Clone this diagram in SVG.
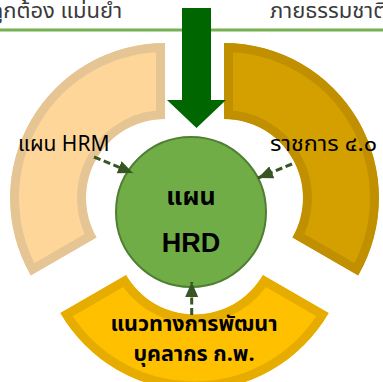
<svg xmlns="http://www.w3.org/2000/svg" width="383" height="382" viewBox="0 0 383 382">
<style>
.th{font-family:Tahoma,"Leelawadee UI","Noto Sans Thai","Noto Sans","DejaVu Sans",sans-serif;}
.top{font-size:22px;fill:#3a3a3a;}
.lbl{font-size:21px;fill:#000;}
.bl{font-size:21.5px;font-weight:bold;fill:#000;}
.conn{stroke:#375623;stroke-width:3;stroke-dasharray:7 3.5;fill:none;}
</style>
<defs>
<marker id="ah" markerWidth="15" markerHeight="13" refX="15" refY="6.5" orient="auto" markerUnits="userSpaceOnUse">
<path d="M0,0 L15,6.5 L0,13 Z" fill="#375623"/>
</marker>
<clipPath id="clL"><path d="M165,43 A155,155 0 0 0 30.8,275.5 L96.6,237.5 A79,79 0 0 1 165,119 Z"/></clipPath>
<clipPath id="clR"><path d="M224,43 A155,155 0 0 1 358.2,275.5 L292.4,237.5 A79,79 0 0 0 224,119 Z"/></clipPath>
<clipPath id="clB"><path d="M328.7,313 A155,155 0 0 1 60.3,313 L126.1,275 A79,79 0 0 0 262.9,275 Z"/></clipPath>
</defs>
<rect width="383" height="382" fill="#fff"/>
<g id="top-text">
<text class="th top" x="-10" y="18">ถูกต้อง แม่นยำ</text>
<text class="th top" x="270" y="18">ภายธรรมชาติเ</text>
<line x1="0" y1="30" x2="383" y2="30" stroke="#77B150" stroke-width="3"/>
</g>
<g id="seg-left">
<path d="M165,43 A155,155 0 0 0 30.8,275.5 L96.6,237.5 A79,79 0 0 1 165,119 Z" fill="#FFD699" stroke="#E6C594" stroke-width="18" clip-path="url(#clL)"/>
</g>
<g id="seg-right">
<path d="M224,43 A155,155 0 0 1 358.2,275.5 L292.4,237.5 A79,79 0 0 0 224,119 Z" fill="#D3A000" stroke="#C09000" stroke-width="18" clip-path="url(#clR)"/>
</g>
<g id="seg-bottom">
<path d="M328.7,313 A155,155 0 0 1 60.3,313 L126.1,275 A79,79 0 0 0 262.9,275 Z" fill="#FFC000" stroke="#E6AD00" stroke-width="18" clip-path="url(#clB)"/>
</g>
<g id="hrd">
<circle cx="191" cy="212" r="75" fill="#70AD47" stroke="#507E32" stroke-width="2"/>
<text class="th" x="191" y="205" text-anchor="middle" font-size="25" font-weight="bold">แผน</text>
<text x="191" y="252" text-anchor="middle" font-family="'Liberation Sans',Arial,sans-serif" font-size="27" font-weight="bold">HRD</text>
</g>
<g id="connectors">
<line class="conn" x1="94" y1="157" x2="133" y2="173" marker-end="url(#ah)"/>
<line class="conn" x1="292" y1="164" x2="258" y2="178" marker-end="url(#ah)"/>
<line class="conn" x1="191.7" y1="315" x2="191.7" y2="282" marker-end="url(#ah)"/>
</g>
<g id="label-hrm">
<text class="th lbl" x="18" y="151">แผน HRM</text>
</g>
<g id="label-gov">
<text class="th lbl" x="270" y="151" textLength="107" lengthAdjust="spacingAndGlyphs">ราชการ ๔.๐</text>
</g>
<g id="label-ocsc">
<text class="th bl" x="194" y="331" text-anchor="middle">แนวทางการพัฒนา</text>
<text class="th bl" x="194" y="361" text-anchor="middle">บุคลากร ก.พ.</text>
</g>
<g id="big-arrow">
<polygon points="182,8 211,8 211,100 226,100 196.5,128 167,100 182,100" fill="#006600"/>
</g>
</svg>
